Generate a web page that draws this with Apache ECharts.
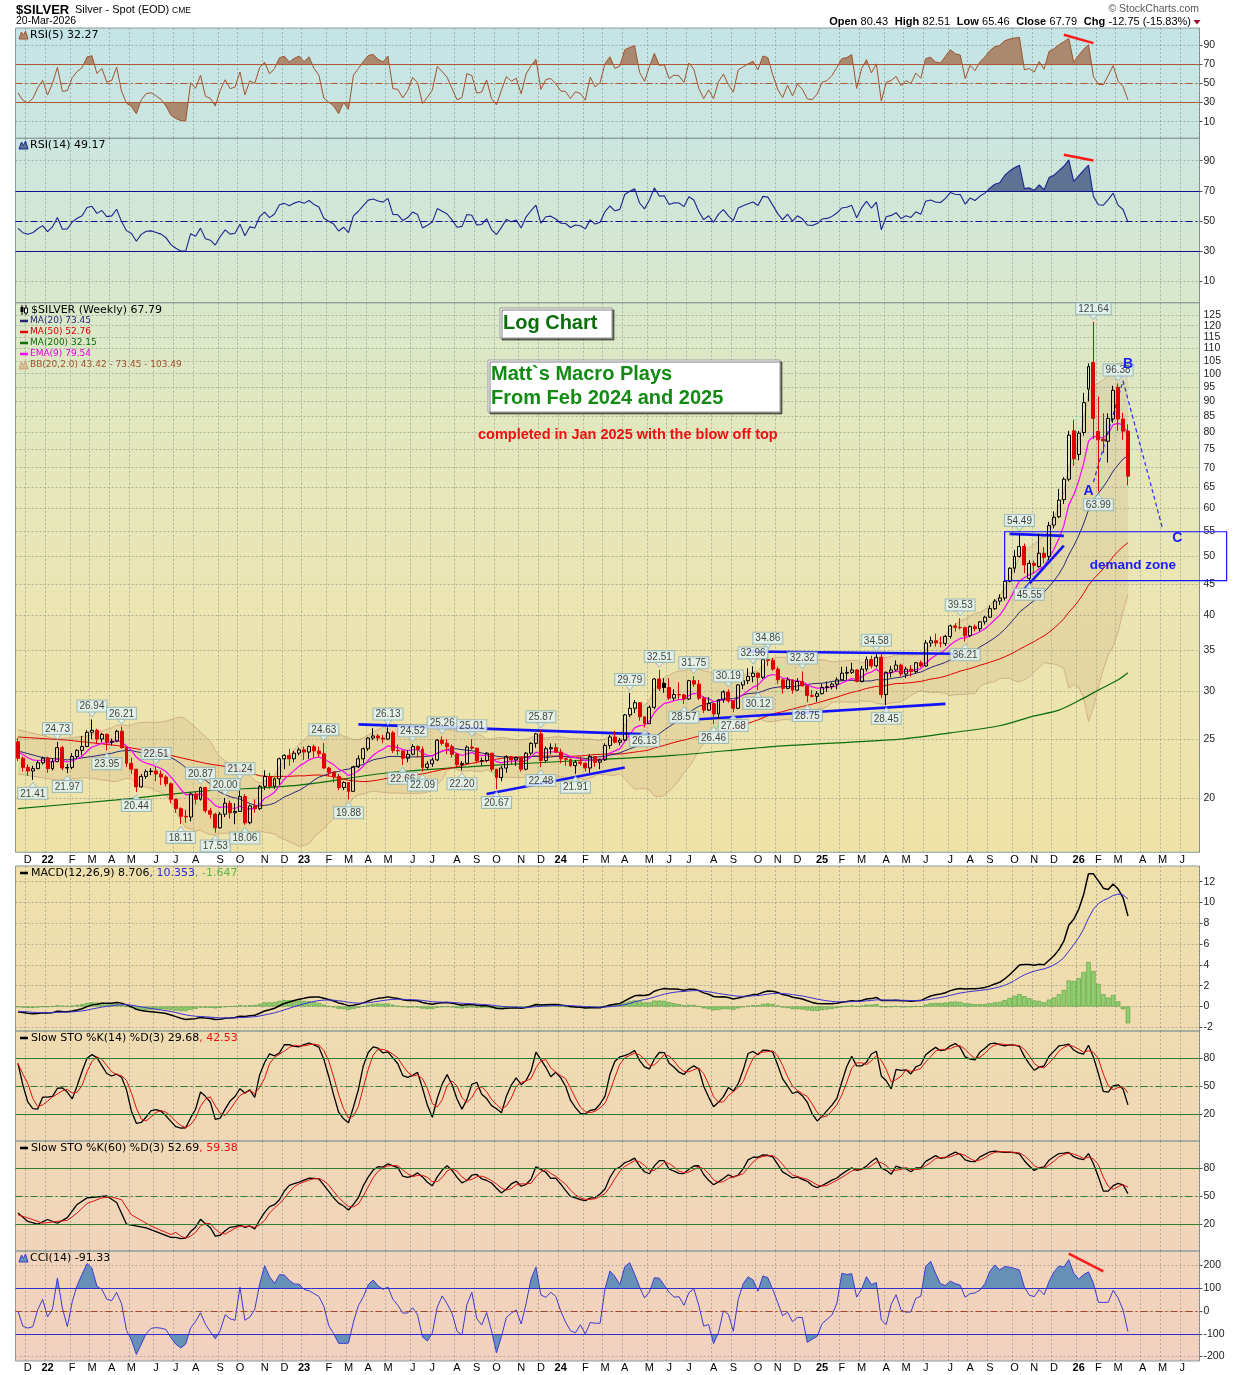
<!DOCTYPE html>
<html>
<head>
<meta charset="utf-8">
<title>$SILVER Weekly</title>
<script src="https://cdn.jsdelivr.net/npm/echarts@6.0.0/dist/echarts.min.js"></script>
<style>
  html, body { margin:0; padding:0; background:#ffffff; }
  #wrap { position:relative; width:1240px; height:1375px; overflow:hidden; }
  .bg { position:absolute; left:15px; width:1185px; }
  #bgTop { top:28px; height:824px; background:linear-gradient(to bottom,#c4e4e6 0%,#cbe6df 14%,#d9e8cb 33%,#e3e7bd 50%,#ebe5b2 70%,#efe2a8 100%); }
  #bgBot { top:866px; height:495px; background:linear-gradient(to bottom,#efe0ab 0%,#efdbb0 35%,#f0d7b6 58%,#f1d4bb 80%,#f2d1c0 100%); }
  #chart { position:absolute; left:0; top:0; width:1240px; height:1375px; }
</style>
</head>
<body>
<div id="wrap"><div id="bgTop" class="bg"></div><div id="bgBot" class="bg"></div><div id="chart"></div></div>
<script>
// ---------------- DATA (weekly bars, [open, close, low, high]) ----------------
const FIRST_WEEK = '2021-11-26';
const BLANK_WEEKS = 14;
const W2021 = [[24.75,23.25,23.00,25.10],[23.25,22.45,22.10,23.40],[22.45,22.15,21.75,22.70],[22.15,22.35,21.41,22.60],[22.35,22.85,22.30,23.05],[22.85,23.25,22.70,23.40]];
const W2022 = [[23.25,22.35,22.00,23.40],[22.35,22.95,22.20,23.25],[22.95,24.20,22.90,24.73],[24.20,22.40,22.20,24.35],[22.40,22.45,21.97,22.75],[22.45,23.40,22.30,23.70],[23.40,23.95,23.20,24.05],[23.95,24.30,23.50,25.30],[24.30,25.65,24.25,25.85],[25.65,25.85,25.00,26.94],
  [25.85,25.00,24.60,26.00],[25.00,25.45,24.70,25.60],[25.45,24.70,23.95,25.55],[24.70,24.80,24.40,25.05],[24.80,25.75,24.70,25.90],[25.75,24.20,24.10,26.21],[24.20,22.80,22.50,24.30],[22.80,22.30,21.90,23.30],[22.30,20.85,20.44,22.30],[20.85,21.70,20.80,21.90],
  [21.70,22.10,21.50,22.30],[22.10,22.15,21.80,22.40],[22.15,21.90,21.30,22.51],[21.90,21.65,21.00,22.20],[21.65,21.10,20.90,21.80],[21.10,19.90,19.60,21.20],[19.90,19.20,18.90,19.95],[19.20,18.65,18.11,19.30],[18.65,18.60,18.20,19.10],[18.60,20.30,18.30,20.40],
  [20.30,19.90,19.50,20.50],[19.90,20.80,19.80,20.87],[20.80,19.05,18.90,20.80],[19.05,18.80,18.50,19.25],[18.80,17.85,17.53,18.90],[17.85,18.80,17.80,18.95],[18.80,19.60,18.60,20.00],[19.60,18.90,18.50,19.80],[18.90,19.00,18.10,19.60],[19.00,20.10,19.00,21.24],
  [20.10,18.20,18.06,20.30],[18.20,19.40,18.10,19.50],[19.40,19.20,18.90,19.90],[19.20,20.90,19.10,21.00],[20.90,21.70,20.60,22.20],[21.70,20.90,20.70,22.00],[20.90,21.50,20.70,21.60],[21.50,23.20,21.00,23.30],[23.20,23.50,22.30,23.60],[23.50,23.20,22.60,24.10],
  [23.20,23.70,22.90,23.90],[23.70,24.00,23.50,24.20]];
const W2023 = [[24.00,23.80,23.10,24.30],[23.80,24.30,23.20,24.40],[24.30,23.90,23.30,24.50],[23.90,23.65,23.30,24.30],[23.65,22.40,22.30,24.63],[22.40,22.05,21.70,22.50],[22.05,21.70,21.20,22.10],[21.70,20.80,20.60,21.90],[20.80,21.20,20.60,21.30],[21.20,20.50,19.88,21.20],
  [20.50,22.50,20.50,22.60],[22.50,23.20,22.40,23.50],[23.20,24.10,22.80,24.20],[24.10,25.10,23.90,25.20],[25.10,25.30,24.90,26.05],[25.30,25.10,24.80,25.50],[25.10,25.00,24.60,25.40],[25.00,25.60,24.90,26.13],[25.60,23.95,23.70,25.80],[23.95,23.90,23.50,24.50],
  [23.90,23.25,22.66,23.95],[23.25,23.60,22.90,24.00],[23.60,24.30,23.50,24.52],[24.30,24.05,23.30,24.40],[24.05,22.45,22.09,24.30],[22.45,22.75,22.30,23.00],[22.75,23.10,22.50,23.30],[23.10,24.90,23.00,25.00],[24.90,24.60,24.40,25.26],[24.60,24.30,23.60,25.00],
  [24.30,23.60,23.30,24.50],[23.60,22.70,22.50,23.70],[22.70,22.80,22.20,23.00],[22.80,24.25,22.80,24.40],[24.25,24.15,24.00,25.01],[24.15,23.00,22.80,24.20],[23.00,23.05,22.60,23.30],[23.05,23.70,22.90,23.80],[23.70,22.30,22.10,23.70],[22.30,21.60,20.67,22.30],
  [21.60,22.40,21.30,22.60],[22.40,23.40,22.00,23.50],[23.40,23.10,22.70,23.40],[23.10,23.30,22.60,23.40],[23.30,22.30,22.10,23.30],[22.30,23.70,22.20,23.80],[23.70,24.60,23.50,24.70],[24.60,25.50,24.20,25.60],[25.50,23.05,22.48,25.87],[23.05,24.10,22.90,24.30],
  [24.10,24.20,23.60,24.60],[24.20,23.80,23.70,24.60]];
const W2024 = [[23.80,23.20,22.80,24.10],[23.20,23.15,22.60,23.30],[23.15,22.60,22.50,23.20],[22.60,22.90,21.91,23.10],[22.90,22.80,22.60,23.40],[22.80,22.40,22.10,22.90],[22.40,23.40,22.00,23.60],[23.40,22.90,22.50,23.40],[22.90,23.10,22.30,23.20],[23.10,24.40,23.00,24.60],
  [24.40,25.20,24.10,25.40],[25.20,24.70,24.60,25.80],[24.70,24.90,24.40,25.10],[24.90,27.40,24.80,27.50],[27.40,28.10,27.20,29.79],[28.10,28.70,27.60,29.00],[28.70,27.20,26.80,28.70],[27.20,26.50,26.13,27.00],[26.50,28.20,26.50,28.40],[28.20,31.40,28.00,31.50],
  [31.40,30.30,30.00,32.51],[30.90,30.40,29.80,31.50],[30.40,29.20,29.00,31.50],[29.20,29.60,28.90,30.20],[29.60,29.55,29.00,31.00],[29.55,29.10,28.57,29.70],[29.10,31.20,29.00,31.30],[31.20,30.80,30.50,31.75],[30.80,29.20,29.00,31.30],[29.20,27.90,27.60,29.40],
  [27.90,28.60,27.80,29.30],[28.60,27.50,26.46,28.70],[27.50,29.00,27.00,29.10],[29.00,29.90,28.70,30.10],[29.90,28.90,28.70,30.19],[28.90,28.10,27.68,28.90],[28.10,30.70,28.00,30.80],[30.70,31.20,30.20,31.30],[31.20,31.70,30.80,32.70],[31.70,32.10,31.00,32.96],
  [32.10,31.60,30.12,32.20],[31.60,33.80,31.40,33.90],[33.80,33.70,33.00,34.86],[33.70,32.60,32.40,34.00],[32.60,31.30,30.80,32.90],[31.30,30.30,29.70,31.50],[30.30,31.30,30.20,31.60],[31.30,30.10,29.70,31.30],[30.10,31.10,30.00,31.50],[31.10,30.60,30.50,32.32],
  [30.60,29.50,28.75,30.70],[29.50,29.40,29.30,30.10]];
const W2025 = [[29.40,29.70,28.80,30.00],[29.70,30.40,29.60,30.80],[30.40,30.50,29.90,31.10],[30.50,30.80,30.20,31.00],[30.80,31.30,30.20,31.60],[31.30,32.10,31.20,32.90],[32.10,32.20,31.30,32.90],[32.20,32.50,32.00,33.40],[32.50,31.10,31.00,32.60],[31.10,32.60,31.00,33.00],
  [32.60,33.80,32.30,34.20],[33.80,33.00,32.70,34.30],[33.00,34.10,32.80,34.58],[34.10,29.60,29.20,34.50],[29.60,32.20,28.45,32.30],[32.20,32.50,31.60,33.00],[32.50,33.10,32.30,33.70],[33.10,32.00,31.70,33.30],[32.00,32.60,31.50,32.90],[32.60,32.30,31.70,33.10],
  [32.30,33.40,32.10,33.50],[33.40,33.00,32.80,33.70],[33.00,36.00,32.90,36.40],[36.00,36.30,35.50,36.90],[36.30,36.00,35.50,37.30],[36.00,35.95,35.40,36.90],[35.95,36.90,35.60,37.10],[36.90,38.40,36.60,38.60],[38.40,38.20,37.60,38.80],[38.20,38.15,37.90,39.53],
  [38.15,37.00,36.21,38.30],[37.00,38.30,36.80,38.50],[38.30,38.00,37.60,38.60],[38.00,39.00,37.60,39.10],[39.00,39.70,38.60,39.90],[39.70,41.00,39.60,41.50],[41.00,42.20,40.80,42.50],[42.20,42.70,41.60,43.30],[42.70,45.50,42.30,46.60],[45.50,47.80,45.30,48.00],
  [47.80,50.00,47.00,51.20],[50.00,51.90,49.80,54.49],[51.90,48.40,46.90,52.50],[46.00,48.70,45.55,49.30],[48.70,48.30,46.90,49.20],[48.10,50.60,47.90,54.40],[50.60,49.80,48.70,51.80],[50.00,56.20,49.30,57.00],[56.30,58.00,55.60,59.30],[58.10,61.90,57.80,64.60],
  [62.00,67.00,61.00,67.50],[67.00,79.20,66.50,80.50]];
const W2026 = [[80.50,72.40,70.50,84.00],[73.60,79.80,72.00,80.50],[80.00,89.60,79.00,93.00],[94.30,102.70,90.00,104.00],[104.30,84.40,78.00,121.64],[80.30,77.80,63.99,91.70],[78.00,77.50,74.00,86.00],[77.40,84.40,71.40,86.00],[84.20,93.90,83.00,95.50],[95.00,84.20,80.50,96.38],
  [84.20,80.40,77.80,86.20],[80.43,67.79,65.46,82.51]];

// Values read off the picture where the chart's own history is not on screen
const MA200_READ = [[0,19.2],[20,19.85],[37,20.5],[57,21.0],[75,22.0],[95,22.6],[114,23.05],[133,23.5],[153,24.3],[179,25.0],[189,25.6],[199,26.3],[206,27.3],[211,27.9],[216,29.2],[219,30.1],[223,31.3],[225,32.15]];
const MA50_EARLY = [[0,25.2],[10,24.9],[20,24.4],[28,23.8],[38,22.8],[44,22.4]];
const MA20_EARLY = [[0,23.9],[5,23.3],[10,23.1],[15,23.4]];
const BB_UPPER_EARLY = [[0,25.9],[8,25.0],[14,25.3]];
const BB_LOWER_EARLY = [[0,21.9],[8,21.4],[14,21.6]];
const STO14_K_EARLY = [74, 51, 33, 26];
const STO60_K_EARLY = [[0,32],[2,23],[4,20],[6,25],[8,21],[10,27],[12,41],[14,48],[18,50],[20,43],[22,20],[26,16],[31,6]];
const STO60_D_EARLY = [[0,30],[3,25],[5,21],[8,23],[10,24],[12,32],[14,42],[17,48],[19,49],[21,46],[23,30],[27,18],[31,9]];
const STO60_COMPUTED_FROM = 32;
const EMA9_SEED = 24.0;
const MACD_SEED = {ema12: 23.9, ema26: 24.4, signal: -0.45};
const RSI_SEED = {rsi5: 40, rsi14: 45, move: 0.5};

// Price annotations [week, price]
const HIGH_LABELS = [[8,24.73],[15,26.94],[21,26.21],[28,22.51],[37,20.87],[42,20.00],[45,21.24],[62,24.63],[75,26.13],[80,24.52],[86,25.26],[92,25.01],[106,25.87],[124,29.79],[130,32.51],[137,31.75],[144,30.19],[149,32.96],[152,34.86],[159,32.32],[174,34.58],[191,39.53],[203,54.49],[218,121.64],[223,96.38]];
const LOW_LABELS = [[3,21.41],[10,21.97],[18,23.95],[24,20.44],[33,18.11],[40,17.53],[46,18.06],[67,19.88],[78,22.66],[82,22.09],[90,22.20],[97,20.67],[106,22.48],[113,21.91],[127,26.13],[135,28.57],[141,26.46],[145,27.68],[150,30.12],[160,28.75],[176,28.45],[192,36.21],[205,45.55],[219,63.99]];
const TREND_LINES = [[[69,26.43],[128,25.45]],[[95,20.3],[123,22.44]],[[138,26.96],[188,28.57]],[[148,34.86],[190,34.55]],[[201,54.45],[212,54.04]],[[204,44.14],[212,52.08]]];
const ABC_PATH = [[218,66.3],[224,97.3],[232,55.6]];
const WAVE_LETTERS = [[217,64.1,'A'],[225,103.7,'B'],[235,53.5,'C']];
const DEMAND_ZONE = {fromWeek:200, toWeek:245, top:54.9, bottom:45.6, labelWeek:226, labelPrice:48.4};
const RSI5_DIV = [[212,100.5],[218,91.8]];
const RSI14_DIV = [[212,94],[218,90.2]];
const CCI_DIV = [[213,252],[220,174]];

// Tick labels
const RSI_TICKS = [10,30,50,70,90];
const PRICE_TICKS = [20,25,30,35,40,45,50,55,60,65,70,75,80,85,90,95,100,105,110,115,120,125];
const MACD_TICKS = [-2,0,2,4,6,8,10,12];
const STO_TICKS = [20,50,80];
const CCI_TICKS = [-200,-100,0,100,200];

// ---------------- derived ----------------
const candles = W2021.concat(W2022, W2023, W2024, W2025, W2026);
const N = candles.length;
const closes = candles.map(r => r[1]);
const lows = candles.map(r => r[2]);
const highs = candles.map(r => r[3]);

const DAY = 86400000;
const t0 = Date.parse(FIRST_WEEK + 'T00:00:00Z');
const weeks = [];
for (let i = 0; i < N + BLANK_WEEKS; i++) weeks.push(new Date(t0 + i * 7 * DAY));
const categories = weeks.map(d => d.toISOString().slice(0, 10));
const MONTH_LETTERS = ['J','F','M','A','M','J','J','A','S','O','N','D'];
const monthLabel = {};
for (let i = 1; i < weeks.length; i++) {
  const m1 = new Date(weeks[i].getTime() - 4 * DAY), m0 = new Date(weeks[i - 1].getTime() - 4 * DAY);
  if (m1.getUTCMonth() !== m0.getUTCMonth()) {
    const mo = m1.getUTCMonth();
    monthLabel[i] = mo === 0 ? '{y|' + String(m1.getUTCFullYear()).slice(2) + '}' : MONTH_LETTERS[mo];
  }
}

function sma(arr, i, n) { const s = Math.max(0, i - n + 1); let t = 0; for (let k = s; k <= i; k++) t += arr[k]; return t / (i - s + 1); }
function emaSeries(arr, n, seed) { const k = 2 / (n + 1); let e = seed; return arr.map(v => (e = v * k + e * (1 - k))); }
function rsiSeries(n, start) {
  let aL = RSI_SEED.move, aG = RSI_SEED.move * start / (100 - start);
  const out = [start];
  for (let i = 1; i < N; i++) {
    const d = closes[i] - closes[i - 1];
    aG = (aG * (n - 1) + Math.max(d, 0)) / n;
    aL = (aL * (n - 1) + Math.max(-d, 0)) / n;
    out.push(aL === 0 ? 100 : 100 - 100 / (1 + aG / aL));
  }
  return out;
}
function slowSto(n, earlyK) {
  const raw = closes.map((c, i) => {
    const s = Math.max(0, i - n + 1); let hh = -Infinity, ll = Infinity;
    for (let k = s; k <= i; k++) { hh = Math.max(hh, highs[k]); ll = Math.min(ll, lows[k]); }
    return hh > ll ? 100 * (c - ll) / (hh - ll) : 50;
  });
  const k = raw.map((v, i) => (earlyK && i < earlyK.length) ? earlyK[i] : sma(raw, i, 3));
  const d = k.map((v, i) => sma(k, i, 3));
  return {k, d};
}

const ma20 = MA20_EARLY.concat(closes.map((c, i) => i >= 19 ? [i, sma(closes, i, 20)] : null).filter(Boolean));
const ma50 = MA50_EARLY.concat(closes.map((c, i) => i >= 49 ? [i, sma(closes, i, 50)] : null).filter(Boolean));
const ema9 = emaSeries(closes, 9, EMA9_SEED);
const bbLower = BB_LOWER_EARLY.slice(), bbWidth = BB_UPPER_EARLY.map((p, j) => [p[0], p[1] - BB_LOWER_EARLY[j][1]]);
for (let i = 19; i < N; i++) {
  const m = sma(closes, i, 20); let v = 0;
  for (let k = i - 19; k <= i; k++) v += (closes[k] - m) * (closes[k] - m);
  const sd = Math.sqrt(v / 20);
  bbLower.push([i, m - 2 * sd]); bbWidth.push([i, 4 * sd]);
}
const e12 = emaSeries(closes, 12, MACD_SEED.ema12), e26 = emaSeries(closes, 26, MACD_SEED.ema26);
const macd = e12.map((v, i) => v - e26[i]);
const signal = emaSeries(macd, 9, MACD_SEED.signal);
const hist = macd.map((v, i) => v - signal[i]);
const rsi5 = rsiSeries(5, RSI_SEED.rsi5);
const rsi14 = rsiSeries(14, RSI_SEED.rsi14);
const sto14 = slowSto(14, STO14_K_EARLY), sto60raw = slowSto(60);
const pairsFrom = (arr, from) => arr.map((v, i) => i >= from ? [i, v] : null).filter(Boolean);
const sto60 = {
  k: STO60_K_EARLY.concat(pairsFrom(sto60raw.k, STO60_COMPUTED_FROM)),
  d: STO60_D_EARLY.concat(pairsFrom(sto60raw.d, STO60_COMPUTED_FROM))
};
const tp = closes.map((c, i) => (highs[i] + lows[i] + c) / 3);
const cci = tp.map((v, i) => {
  const s = Math.max(0, i - 13), m = sma(tp, i, 14); let md = 0;
  for (let k = s; k <= i; k++) md += Math.abs(tp[k] - m);
  md /= (i - s + 1);
  return md > 0 ? (v - m) / (0.015 * md) : 0;
});

// ---------------- styling ----------------
const SANS = '"Liberation Sans", Arial, sans-serif';
const DV = '"DejaVu Sans", Verdana, sans-serif';
const GRID_C = 'rgba(95,110,110,0.42)';
const RED = '#e00000', BLACK = '#000000';
const DASHDOT = [7, 3, 2, 3];

const candleData = candles.map((r, i) => {
  const [o, c] = r; const prev = i > 0 ? candles[i - 1][1] : o;
  const col = c < prev ? RED : BLACK;
  const fill = c >= o ? 'rgba(0,0,0,0)' : col;
  return {value: r, itemStyle: {color: fill, color0: fill, borderColor: col, borderColor0: col, borderColorDoji: col}};
});

const GL = 15.5, GW = 1184;
const gridDefs = [
  {top: 28, height: 110.3}, {top: 138.3, height: 164.4}, {top: 302.7, height: 549.6},
  {top: 866, height: 165}, {top: 1031, height: 110}, {top: 1141, height: 110}, {top: 1251, height: 110}
];
const yDefs = [
  {min: -7.3, max: 107.6, ticks: RSI_TICKS}, {min: -4.4, max: 104.9, ticks: RSI_TICKS},
  {type: 'log', min: 16.27, max: 130.9, ticks: []},
  {min: -2.356, max: 13.51, ticks: MACD_TICKS}, {min: -8.5, max: 108.5, ticks: STO_TICKS},
  {min: -8.5, max: 108.5, ticks: STO_TICKS}, {min: -219.3, max: 263.2, ticks: CCI_TICKS}
];
const isLabel = (i) => monthLabel[i] !== undefined;

const series = [];
function add(s) { series.push(Object.assign({silent: true, animation: false}, s)); return series.length - 1; }
function line(g, data, color, width, extra) {
  return add(Object.assign({type: 'line', xAxisIndex: g, yAxisIndex: g, data, symbol: 'none', showSymbol: false, connectNulls: true,
    lineStyle: {color, width}, itemStyle: {color}, z: 3}, extra || {}));
}
function areaSide(g, data, origin) {
  return add({type: 'line', xAxisIndex: g, yAxisIndex: g, data, symbol: 'none', showSymbol: false, lineStyle: {width: 0, opacity: 0},
    areaStyle: {origin, opacity: 1}, z: 2});
}
function hLines(list) { return list.map(([v, color, type]) => ({yAxis: v, lineStyle: {color, type, width: 1}})); }
function seg(pts, style) { return [{coord: pts[0], lineStyle: style}, {coord: pts[1]}]; }
function mk(data) { return {silent: true, symbol: ['none', 'none'], label: {show: false}, animation: false, data}; }

// RSI(5)
const RSI5_FILL = '#a98a70', RSI5_LINE = '#a0522d';
const r5a = areaSide(0, rsi5, 'start'), r5b = areaSide(0, rsi5, 'end');
line(0, rsi5, RSI5_LINE, 1, {markLine: mk(hLines([[70, '#b0582e', 'solid'], [30, '#b0582e', 'solid'], [50, '#b0582e', DASHDOT]]).concat([seg(RSI5_DIV, {color: '#ff1a1a', width: 2.5, type: 'solid'})]))});
// RSI(14)
const RSI14_FILL = '#5c7393', RSI14_LINE = '#1a2590';
const r14a = areaSide(1, rsi14, 'start'), r14b = areaSide(1, rsi14, 'end');
line(1, rsi14, RSI14_LINE, 1.1, {markLine: mk(hLines([[70, '#10108a', 'solid'], [30, '#10108a', 'solid'], [50, '#10108a', DASHDOT]]).concat([seg(RSI14_DIV, {color: '#ff1a1a', width: 2.5, type: 'solid'})]))});

// Main panel
line(2, bbLower, '#c9a57e', 0.8, {stack: 'bb', z: 1, markLine: {silent: true, symbol: ['none', 'none'], animation: false,
  data: PRICE_TICKS.map(v => ({yAxis: v})), lineStyle: {color: GRID_C, type: [2, 2], width: 1},
  label: {show: true, position: 'end', formatter: p => String(p.value), color: '#222', fontSize: 10.5, fontFamily: SANS, distance: 4}}});
line(2, bbWidth, '#c9a57e', 0.8, {stack: 'bb', z: 1, areaStyle: {color: 'rgba(200,158,105,0.28)'}});
line(2, MA200_READ, '#0a6e0a', 1.2, {smooth: 0.3});
line(2, ma50, '#e00000', 1);
line(2, ma20, '#25257a', 1);
line(2, ema9, '#ff00ff', 1.2);
const blueSolid = {color: '#1212ff', width: 2.6, type: 'solid'};
const blueDash = {color: '#2b2bff', width: 1.2, type: [4, 3]};
add({type: 'candlestick', xAxisIndex: 2, yAxisIndex: 2, data: candleData, barWidth: 3.4, itemStyle: {borderWidth: 1}, z: 5,
  markLine: mk(TREND_LINES.map(t => seg(t, blueSolid)).concat([seg([ABC_PATH[0], ABC_PATH[1]], blueDash), seg([ABC_PATH[1], ABC_PATH[2]], blueDash)]))});
const priceLabel = {show: true, formatter: p => p.data.t, backgroundColor: '#e3f5f5', borderColor: '#8fb0b0', borderWidth: 1,
  padding: [1, 2, 0, 2], fontSize: 10, lineHeight: 10, color: '#111', fontFamily: SANS, distance: 0};
add({type: 'scatter', xAxisIndex: 2, yAxisIndex: 2, z: 20, data: HIGH_LABELS.map(([i, v]) => ({value: [i, v], t: v.toFixed(2)})),
  symbol: 'triangle', symbolRotate: 180, symbolSize: [8, 5], symbolOffset: [0, -5], itemStyle: {color: '#e3f5f5', borderColor: '#8fb0b0', borderWidth: 0.8},
  label: Object.assign({position: 'top'}, priceLabel)});
add({type: 'scatter', xAxisIndex: 2, yAxisIndex: 2, z: 20, data: LOW_LABELS.map(([i, v]) => ({value: [i, v], t: v.toFixed(2)})),
  symbol: 'triangle', symbolSize: [8, 5], symbolOffset: [0, 5], itemStyle: {color: '#e3f5f5', borderColor: '#8fb0b0', borderWidth: 0.8},
  label: Object.assign({position: 'bottom'}, priceLabel)});

// MACD
add({type: 'bar', xAxisIndex: 3, yAxisIndex: 3, data: hist, barWidth: '88%', itemStyle: {color: '#92d06f', borderColor: '#4d9a3c', borderWidth: 0.6}, z: 2});
line(3, macd, '#000000', 1.5);
line(3, signal, '#3b2fd6', 1);
// Slow STO 14
const stoRefs = hLines([[80, '#2f7d2f', 'solid'], [20, '#2f7d2f', 'solid'], [50, '#2f7d2f', DASHDOT]]);
line(4, sto14.k, '#000000', 1.3, {markLine: mk(stoRefs)});
line(4, sto14.d, '#e01010', 1);
// Slow STO 60
line(5, sto60.k, '#000000', 1.3, {markLine: mk(stoRefs)});
line(5, sto60.d, '#e01010', 1);
// CCI
const CCI_FILL = '#6790b8';
const ca = areaSide(6, cci, 'start'), cb = areaSide(6, cci, 'end');
line(6, cci, '#3a3ad2', 1, {markLine: mk(hLines([[100, '#2f2fd0', 'solid'], [-100, '#2f2fd0', 'solid'], [0, '#a0462d', DASHDOT]]).concat([seg(CCI_DIV, {color: '#ff1a1a', width: 2.5, type: 'solid'})]))});

const T = 'rgba(0,0,0,0)';
const visualMap = [
  {seriesIndex: r5a, pieces: [{gt: 70, lte: 110, color: RSI5_FILL}, {gte: -10, lte: 70, color: T}]},
  {seriesIndex: r5b, pieces: [{gte: -10, lt: 30, color: RSI5_FILL}, {gte: 30, lte: 110, color: T}]},
  {seriesIndex: r14a, pieces: [{gt: 70, lte: 110, color: RSI14_FILL}, {gte: -10, lte: 70, color: T}]},
  {seriesIndex: r14b, pieces: [{gte: -10, lt: 30, color: RSI14_FILL}, {gte: 30, lte: 110, color: T}]},
  {seriesIndex: ca, pieces: [{gt: 100, lte: 1000, color: CCI_FILL}, {gte: -1000, lte: 100, color: T}]},
  {seriesIndex: cb, pieces: [{gte: -1000, lt: -100, color: CCI_FILL}, {gte: -100, lte: 1000, color: T}]}
].map(v => Object.assign({type: 'piecewise', show: false, dimension: 1}, v));

const option = {
  animation: false,
  backgroundColor: 'transparent',
  textStyle: {fontFamily: SANS},
  grid: gridDefs.map(g => ({left: GL, width: GW, top: g.top, height: g.height, show: true, borderColor: '#8c9c9c', borderWidth: 1,
    backgroundColor: 'transparent', containLabel: false, outerBoundsMode: 'none'})),
  xAxis: gridDefs.map((g, gi) => ({type: 'category', gridIndex: gi, data: categories, boundaryGap: true,
    axisLine: {show: false}, axisTick: {show: false},
    axisLabel: {show: gi === 2 || gi === 6, interval: isLabel, formatter: (v, i) => monthLabel[i] || '', color: '#000', fontSize: 11,
      fontFamily: SANS, margin: gi === 2 ? 2.5 : 1.5, rich: {y: {fontWeight: 'bold', fontSize: 11, fontFamily: SANS, color: '#000'}}},
    splitLine: {show: true, interval: isLabel, lineStyle: {color: GRID_C, type: [2, 2], width: 1}}})),
  yAxis: yDefs.map((y, gi) => {
    const lin = !y.type;
    return {type: y.type || 'value', gridIndex: gi, position: 'right', min: y.min, max: y.max, logBase: 10,
      axisLine: {show: false},
      axisTick: {show: lin, length: 3, customValues: lin ? y.ticks : undefined, lineStyle: {color: '#555'}},
      axisLabel: {show: lin, customValues: lin ? y.ticks : undefined, color: '#222', fontSize: 10.5, fontFamily: SANS, margin: 4},
      splitLine: {show: lin, lineStyle: {color: GRID_C, type: [2, 2], width: 1}}};
  }),
  visualMap,
  series
};

const chart = echarts.init(document.getElementById('chart'), null, {renderer: 'canvas'});
chart.setOption(option);

// ---------------- text overlays ----------------
function txt(x, y, text, font, fill, align) {
  return {type: 'text', x, y, silent: true, z: 100, style: {text, font, fill, align: align || 'left', textAlign: align || 'left', verticalAlign: 'middle', textVerticalAlign: 'middle'}};
}
function rich(x, y, text, richDef, align) {
  return {type: 'text', x, y, silent: true, z: 100, style: {text, rich: richDef, align: align || 'left', textAlign: align || 'left', verticalAlign: 'middle', textVerticalAlign: 'middle'}};
}
function mountain(x, y, fill, stroke) {
  return {type: 'polygon', silent: true, z: 100, shape: {points: [[x, y + 4], [x + 2.5, y - 3], [x + 4.5, y + 0.5], [x + 6.5, y - 4], [x + 9, y + 4]]}, style: {fill, stroke, lineWidth: 1}};
}
function dash(y, color) { return {type: 'line', silent: true, z: 100, shape: {x1: 20, y1: y, x2: 28, y2: y}, style: {stroke: color, lineWidth: 2.5}}; }
function box(x, y, w, h) {
  return {type: 'rect', silent: true, z: 99, shape: {x, y, width: w, height: h}, style: {fill: '#ffffff', stroke: '#9a9a9a', lineWidth: 1, shadowColor: 'rgba(0,0,0,0.5)', shadowOffsetX: 2, shadowOffsetY: 2, shadowBlur: 0}};
}
const F11 = '11px ' + DV, F9 = '9px ' + DV;
const legRich = (c) => ({fontSize: 11, fontFamily: DV, fill: c, color: c});
const graphics = [
  txt(16, 10, '$SILVER', 'bold 13px ' + SANS, '#000'),
  txt(75, 10, 'Silver - Spot (EOD)', '11px ' + SANS, '#000'),
  txt(172, 10.5, 'CME', '8.5px ' + SANS, '#000'),
  txt(16, 21, '20-Mar-2026', '10.5px ' + SANS, '#000'),
  txt(1199, 9, '\u00a9 StockCharts.com', '10.5px ' + SANS, '#555', 'right'),
  rich(1191, 22, '{b|Open} {n|80.43}  {b|High} {n|82.51}  {b|Low} {n|65.46}  {b|Close} {n|67.79}  {b|Chg} {n|-12.75 (-15.83%)}',
    {b: {fontSize: 11, fontWeight: 'bold', fontFamily: SANS, fill: '#000', color: '#000'}, n: {fontSize: 11, fontFamily: SANS, fill: '#000', color: '#000'}}, 'right'),
  {type: 'polygon', silent: true, z: 100, shape: {points: [[1193.5, 20], [1200.5, 20], [1197, 24.5]]}, style: {fill: '#9b0a2a'}},
  // panel legends
  mountain(19, 35, '#a98a70', '#a0522d'), txt(30, 35, 'RSI(5) 32.27', F11, '#000'),
  mountain(19, 145, '#5c7393', '#1a2590'), txt(30, 145, 'RSI(14) 49.17', F11, '#000'),
  {type: 'line', silent: true, z: 100, shape: {x1: 22, y1: 305, x2: 22, y2: 315}, style: {stroke: '#000', lineWidth: 1}},
  {type: 'rect', silent: true, z: 101, shape: {x: 20.5, y: 307, width: 3, height: 5}, style: {fill: '#000'}},
  {type: 'line', silent: true, z: 100, shape: {x1: 26, y1: 305, x2: 26, y2: 315}, style: {stroke: '#000', lineWidth: 1}},
  {type: 'rect', silent: true, z: 101, shape: {x: 24.5, y: 308, width: 3, height: 5}, style: {fill: '#fff', stroke: '#000', lineWidth: 1}},
  txt(31, 310, '$SILVER (Weekly) 67.79', F11, '#000'),
  dash(321, '#25257a'), txt(30, 321, 'MA(20) 73.45', F9, '#25257a'),
  dash(332, '#e00000'), txt(30, 332, 'MA(50) 52.76', F9, '#e00000'),
  dash(343, '#0a6e0a'), txt(30, 343, 'MA(200) 32.15', F9, '#0a6e0a'),
  dash(354, '#ff00ff'), txt(30, 354, 'EMA(9) 79.54', F9, '#e000e0'),
  mountain(19, 365, '#d8bc98', '#c9a57e'), txt(30, 365, 'BB(20,2.0) 43.42 - 73.45 - 103.49', F9, '#a0522d'),
  dash(873, '#000'), rich(31, 873, '{k|MACD(12,26,9) 8.706}{b|, 10.353}{g|, -1.647}', {k: legRich('#000'), b: legRich('#2b2bdc'), g: legRich('#5cb845')}),
  dash(1038, '#000'), rich(31, 1038, '{k|Slow STO %K(14) %D(3) 29.68}{r|, 42.53}', {k: legRich('#000'), r: legRich('#f01010')}),
  dash(1148, '#000'), rich(31, 1148, '{k|Slow STO %K(60) %D(3) 52.69}{r|, 59.38}', {k: legRich('#000'), r: legRich('#f01010')}),
  mountain(19, 1258, '#6790b8', '#3a3ad2'), txt(30, 1258, 'CCI(14) -91.33', F11, '#000'),
  // commentary boxes
  box(500, 308, 112, 30), txt(503, 323, 'Log Chart', 'bold 20px ' + SANS, '#0b6e0b'),
  box(488, 360, 292, 52), txt(491, 374, 'Matt`s Macro Plays', 'bold 20px ' + SANS, '#138a13'), txt(491, 398, 'From Feb 2024 and 2025', 'bold 20px ' + SANS, '#138a13'),
  txt(478, 435, 'completed in Jan 2025 with the blow off top', 'bold 14.5px ' + SANS, '#ee1111')
];
// data-anchored annotations (wave letters, demand zone)
const toPx = (i, v) => chart.convertToPixel({gridIndex: 2}, [i, v]);
WAVE_LETTERS.forEach(([i, v, t]) => {
  const p = toPx(i, v);
  if (p) graphics.push(txt(p[0], p[1], t, 'bold 14px ' + SANS, '#1a1aff', 'center'));
});
const pz = toPx(DEMAND_ZONE.labelWeek, DEMAND_ZONE.labelPrice);
if (pz) graphics.push(txt(pz[0], pz[1], 'demand zone', 'bold 13.5px ' + SANS, '#1a1aff', 'center'));
const z1 = toPx(DEMAND_ZONE.fromWeek, DEMAND_ZONE.top);
const z2 = toPx(DEMAND_ZONE.toWeek, DEMAND_ZONE.bottom);
if (z1 && z2) {
  graphics.push({type: 'rect', silent: true, z: 90, shape: {x: z1[0], y: z1[1], width: z2[0] - z1[0], height: z2[1] - z1[1]}, style: {fill: 'none', stroke: '#1515ff', lineWidth: 1.2}});
}
chart.setOption({graphic: graphics});
</script>
</body>
</html>
